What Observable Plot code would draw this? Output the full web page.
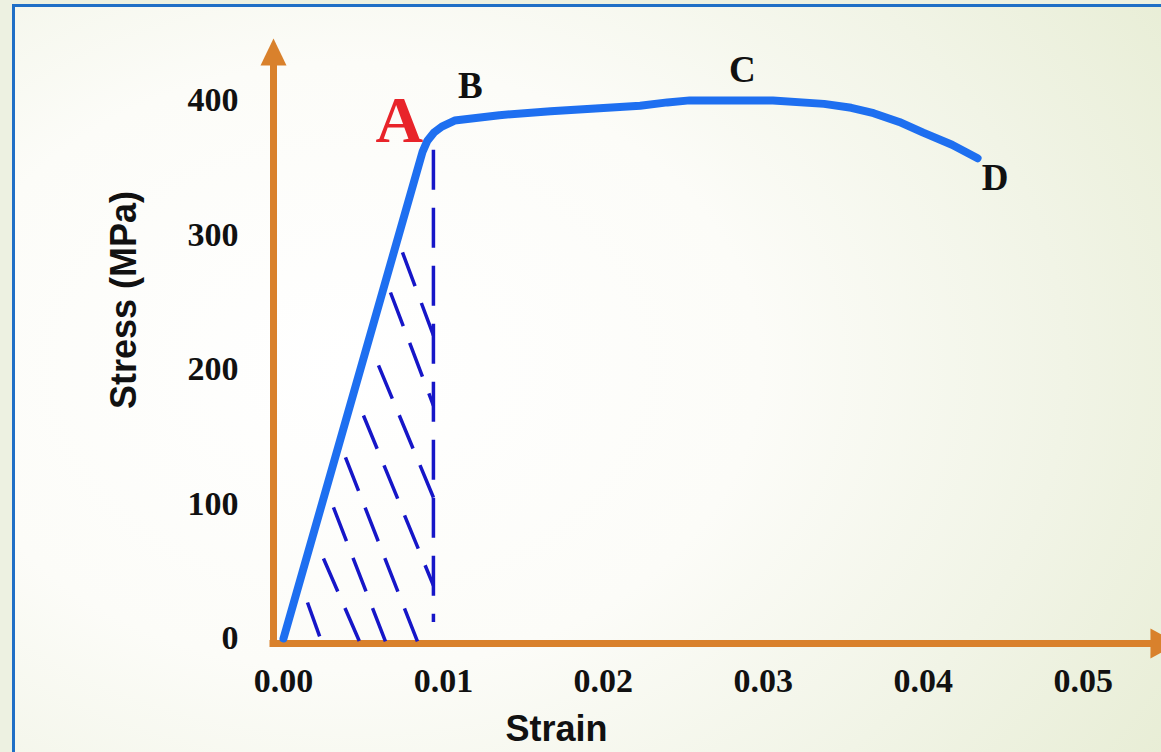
<!DOCTYPE html>
<html>
<head>
<meta charset="utf-8">
<script src="https://cdn.jsdelivr.net/npm/d3@7"></script>
<script src="https://cdn.jsdelivr.net/npm/@observablehq/plot@0.6"></script>
<style>
  html, body { margin: 0; padding: 0; }
  body { width: 1161px; height: 752px; position: relative; overflow: hidden; background: #edf1e1; }
  #frame {
    position: absolute; left: 12px; top: 4px; width: 1200px; height: 800px;
    border-left: 3px solid #1f6fc6; border-top: 3px solid #1f6fc6;
    background: radial-gradient(ellipse 85% 95% at 28% 45%, #ffffff 0%, #fcfcf8 40%, #f1f4e6 70%, #e6ecd2 100%);
  }
  #chart { position: absolute; left: 0; top: 0; }
</style>
</head>
<body>
<div id="frame"></div>
<div id="chart"></div>
<script>
// ---- Data ----
const curveStrain = [0, 0.0087, 0.0090, 0.0094, 0.0099, 0.0107, 0.0135, 0.0167, 0.0195, 0.0223, 0.0240, 0.0254, 0.0306, 0.0338, 0.0355, 0.0369, 0.0385, 0.0400, 0.0418, 0.0434];
const curveStress = [0, 362, 370, 376, 380.5, 385, 389, 392, 394, 396, 398.5, 400, 400, 397.4, 394.5, 390.5, 384, 376, 367, 357];

// hatch lines (start and end, in strain / stress)
const hatchStrain1 = [0.0015, 0.0025, 0.003125, 0.003875, 0.0050, 0.00594, 0.00669, 0.00744];
const hatchStress1 = [26.8, 59.5, 97.4, 134.6, 165.8, 203, 257.2, 287];
const hatchStrain2 = [0.002375, 0.00475, 0.006375, 0.008375, 0.009375, 0.009375, 0.009375, 0.009375];
const hatchStress2 = [-2.2, -2.2, -2.2, -2.2, 39.4, 104.8, 173.2, 225.3];

// vertical dashed line under point A
const dropStrain = [0.009375];
const dropStressTop = [363];
const dropStressBottom = [12];

// point labels
const pointNames = ["A", "B", "C", "D"];
const pointStrain = [0.00725, 0.01169, 0.02869, 0.0445];
const pointStress = [368.8, 401.5, 413.4, 333.1];

// ticks
const xTicks = [0, 0.01, 0.02, 0.03, 0.04, 0.05];
const yTicks = [0, 100, 200, 300, 400];

// axis extents
const xMin = -0.000625, xMax = 0.0549;
const yMin = -3.7, yMax = 446;
const xArrowBase = [0.05421];
const yArrowBase = [425.9];

// ---- Build tables ----
const curve = curveStrain.map((s, i) => ({strain: s, stress: curveStress[i]}));
const hatch = hatchStrain1.map((s, i) => ({x1: s, y1: hatchStress1[i], x2: hatchStrain2[i], y2: hatchStress2[i]}));
const drop = dropStrain.map((s, i) => ({x: s, y1: dropStressTop[i], y2: dropStressBottom[i]}));
const points = pointNames.map((n, i) => ({name: n, strain: pointStrain[i], stress: pointStress[i]}));

const orange = "#d9812c";
const serif = "'Liberation Serif', 'Times New Roman', serif";
const sans = "'Liberation Sans', Arial, sans-serif";

const arrowUp = (w, h) => ({
  draw(ctx) { ctx.moveTo(0, -h); ctx.lineTo(w, 0); ctx.lineTo(-w, 0); ctx.closePath(); }
});

const chart = Plot.plot({
  width: 1161,
  height: 752,
  marginLeft: 273,
  marginRight: 0,
  marginTop: 38,
  marginBottom: 109,
  style: {background: "transparent", fontFamily: serif, color: "#111"},
  x: {domain: [xMin, xMax], axis: null},
  y: {domain: [yMin, yMax], axis: null},
  marks: [
    // axes lines
    Plot.ruleY([yMin], {x1: xMin, x2: xArrowBase[0], stroke: orange, strokeWidth: 7, strokeLinecap: "square"}),
    Plot.ruleX([xMin], {y1: yMin, y2: yArrowBase[0], stroke: orange, strokeWidth: 7, strokeLinecap: "square"}),
    Plot.dot(yArrowBase, {x: () => xMin, y: d => d, symbol: arrowUp(13, 27), fill: orange, stroke: null, r: 10}),
    Plot.dot(xArrowBase, {x: d => d, y: () => yMin, symbol: arrowUp(15, 28), rotate: 90, fill: orange, stroke: null, r: 10}),
    // tick labels
    Plot.axisX({ticks: xTicks, tickFormat: d3.format(".2f"), tickSize: 0, tickPadding: 24, label: null,
      fontSize: 34, fontWeight: "bold", fontFamily: serif, fill: "#111"}),
    Plot.axisY({ticks: yTicks, tickFormat: d3.format("d"), tickSize: 0, tickPadding: 35, label: null,
      fontSize: 34, fontWeight: "bold", fontFamily: serif, fill: "#111"}),
    // hatching
    Plot.ruleX(drop, {x: "x", y1: "y1", y2: "y2", stroke: "#1616c8", strokeWidth: 3.5, strokeDasharray: "40,18"}),
    Plot.link(hatch, {x1: "x1", y1: "y1", x2: "x2", y2: "y2", stroke: "#1616c8", strokeWidth: 3.5, strokeDasharray: "36,18"}),
    // stress-strain curve
    Plot.line(curve, {x: "strain", y: "stress", curve: "linear", stroke: "#1e6ff0", strokeWidth: 8, strokeLinejoin: "round"}),
    // point labels
    Plot.text(points.filter(d => d.name === "A"), {x: "strain", y: "stress", text: "name", lineAnchor: "bottom",
      fill: "#e8242a", fontSize: 66, fontWeight: "bold", fontFamily: serif}),
    Plot.text(points.filter(d => d.name !== "A"), {x: "strain", y: "stress", text: "name", lineAnchor: "bottom",
      fill: "#111", fontSize: 37, fontWeight: "bold", fontFamily: serif}),
    // axis titles
    Plot.text(["Strain"], {frameAnchor: "bottom", dx: -161, dy: 97, lineAnchor: "bottom", text: d => d,
      fill: "#111", fontSize: 36, fontWeight: "bold", fontFamily: sans}),
    Plot.text(["Stress (MPa)"], {frameAnchor: "left", dx: -138, dy: 68, rotate: -90, lineAnchor: "bottom", text: d => d,
      fill: "#111", fontSize: 36, fontWeight: "bold", fontFamily: sans})
  ]
});
document.getElementById("chart").appendChild(chart);
</script>
</body>
</html>
